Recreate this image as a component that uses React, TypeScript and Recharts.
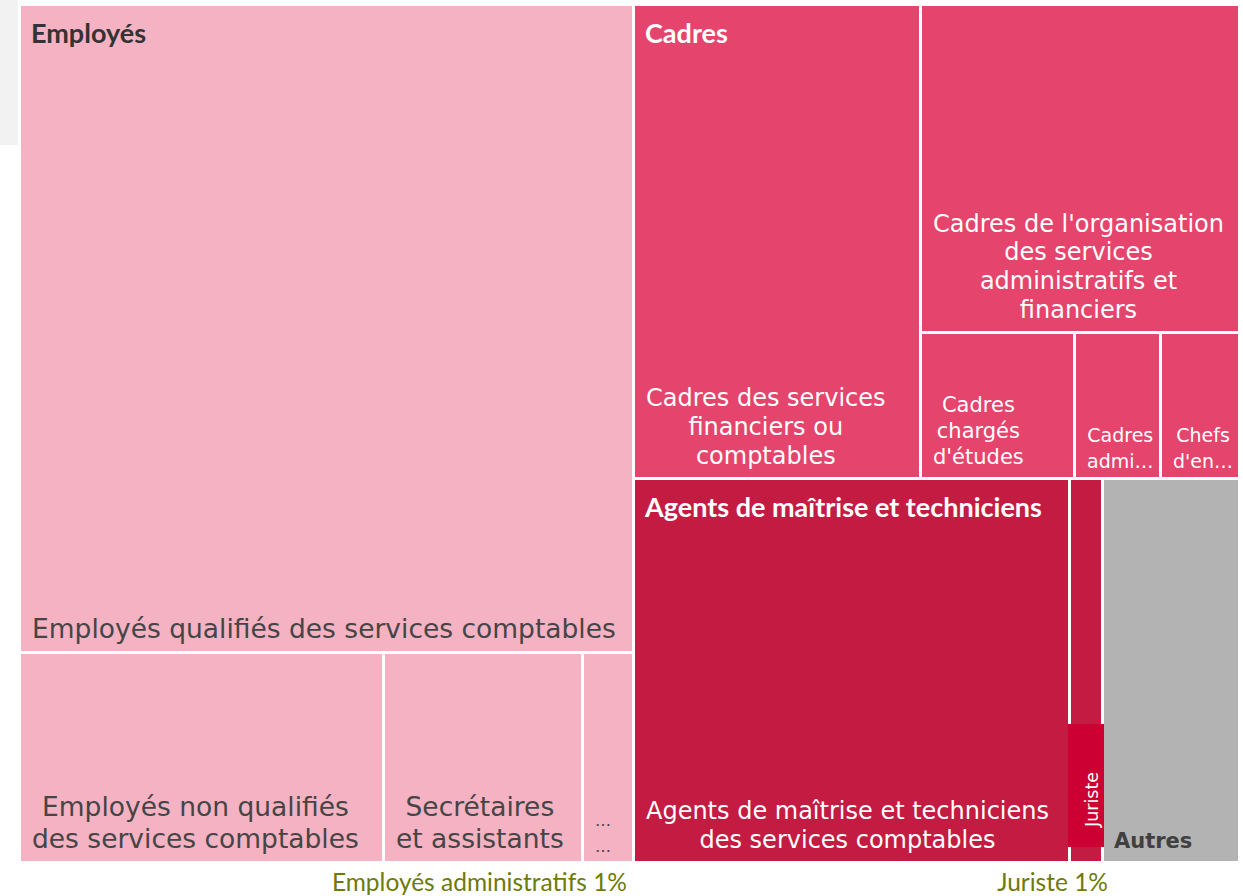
import React from 'react'
import { Treemap } from 'recharts'

// groups (level 1)
const groupNames = ['Employés', 'Cadres', 'Agents de maîtrise et techniciens', 'Autres']

// Employés
const employesNames = [
  'Employés qualifiés des services comptables',
  'Employés non qualifiés des services comptables',
  'Secrétaires et assistants',
  'Employés administratifs',
]
const employesValues = [38.0, 7.3, 4.0, 1.0]
const employesLabels = [
  ['Employés qualifiés des services comptables'],
  ['Employés non qualifiés', 'des services comptables'],
  ['Secrétaires', 'et assistants'],
  ['…', '…'],
]

// Cadres
const cadresNames = [
  'Cadres des services financiers ou comptables',
  "Cadres de l'organisation des services administratifs et financiers",
  "Cadres chargés d'études",
  'Cadres administratifs',
  "Chefs d'entreprise",
]
const cadresValues = [13.0, 10.0, 2.15, 1.2, 1.1]
const cadresLabels = [
  ['Cadres des services', 'financiers ou', 'comptables'],
  ["Cadres de l'organisation", 'des services', 'administratifs et', 'financiers'],
  ['Cadres', 'chargés', "d'études"],
  ['Cadres', 'admi…'],
  ['Chefs', "d'en…"],
]

// Agents de maîtrise et techniciens
const agentsNames = ['Agents de maîtrise et techniciens des services comptables', 'Juriste']
const agentsValues = [16.0, 1.2]
const agentsLabels = [['Agents de maîtrise et techniciens', 'des services comptables'], []]

const autresValue = 5.0

// annotations under the chart
const annotations = ['Employés administratifs 1%', 'Juriste 1%']

const groupFill: Record<string, string> = {
  'Employés': '#f4b2c3',
  'Cadres': '#e5446c',
  'Agents de maîtrise et techniciens': '#c41b43',
  'Autres': '#b3b3b3',
}
const groupText: Record<string, string> = {
  'Employés': '#454545',
  'Cadres': '#ffffff',
  'Agents de maîtrise et techniciens': '#ffffff',
  'Autres': '#404040',
}
const headerText: Record<string, string> = {
  'Employés': '#333333',
  'Cadres': '#ffffff',
  'Agents de maîtrise et techniciens': '#ffffff',
}

const build = (group: string, names: string[], values: number[], labels: string[][]) =>
  names.map((name, i) => ({ name, size: values[i], group, lines: labels[i] }))

const treeData = [
  { name: groupNames[0], children: build(groupNames[0], employesNames, employesValues, employesLabels) },
  { name: groupNames[1], children: build(groupNames[1], cadresNames, cadresValues, cadresLabels) },
  { name: groupNames[2], children: build(groupNames[2], agentsNames, agentsValues, agentsLabels) },
  { name: groupNames[3], size: autresValue, group: groupNames[3], lines: [] },
]

const LEAF_FONT = 'DejaVu Sans, Verdana, sans-serif'
const HEAD_FONT = 'Lato, Calibri, sans-serif'

let ctx: CanvasRenderingContext2D | null = null
const measure = (text: string, font: string) => {
  if (!ctx) ctx = document.createElement('canvas').getContext('2d')
  if (!ctx) return text.length * 10
  ctx.font = font
  return ctx.measureText(text).width
}

const leafFontSize = (group: string, w: number) => {
  if (w < 60) return 16
  if (group === 'Employés') return 26.5
  if (w > 200) return 24
  if (w > 120) return 21
  return 19
}

const renderCell = (props: any) => {
  const { x, y, width, height, depth, index, group, lines, name } = props
  if (depth === 0 || !group) return null
  const w = width - 3
  const h = height - 3
  const fill = groupFill[group]
  const bottom = y + h

  let label: React.ReactNode = null
  if (name === 'Juriste') {
    const tx = x + w - 3
    const ty = bottom - 34
    label = (
      <g>
        <rect x={x - 3} y={bottom - 137} width={w + 6} height={123} fill="#cc0033" />
        <text
          x={tx}
          y={ty}
          transform={`rotate(-90, ${tx}, ${ty})`}
          fill="#fff"
          fontFamily={LEAF_FONT}
          fontSize={17.5}
        >
          Juriste
        </text>
      </g>
    )
  } else if (group === 'Autres') {
    label = (
      <text x={x + 10} y={bottom - 13} fill={groupText[group]} fontFamily={LEAF_FONT} fontWeight="bold" fontSize={21}>
        {name}
      </text>
    )
  } else if (lines && lines.length) {
    const fs = leafFontSize(group, w)
    const lh = Math.max(fs * 1.2, 26)
    const font = `${fs}px ${LEAF_FONT}`
    const bw = Math.max(...lines.map((l: string) => measure(l, font)))
    const cx = x + 11 + bw / 2
    const last = bottom - (fs < 20 ? 9 : 13)
    label = lines.map((l: string, i: number) => (
      <text
        key={i}
        x={cx}
        y={last - (lines.length - 1 - i) * lh}
        textAnchor="middle"
        fill={groupText[group]}
        fontFamily={LEAF_FONT}
        fontSize={fs}
      >
        {l}
      </text>
    ))
  }

  const header =
    depth === 2 && index === 0 ? (
      <text
        x={x + 10}
        y={y + 37}
        fill={headerText[group]}
        fontFamily={HEAD_FONT}
        fontWeight="bold"
        fontSize={27}
      >
        {group}
      </text>
    ) : null

  return (
    <g>
      <rect x={x} y={y} width={w} height={h} fill={fill} />
      {label}
      {header}
    </g>
  )
}

export default function App() {
  return (
    <div style={{ position: 'absolute', left: 0, top: 0, width: 1243, height: 896, background: '#fff' }}>
      <div style={{ position: 'absolute', left: 0, top: 0, width: 18, height: 145, background: '#f2f2f2' }} />
      <div style={{ position: 'absolute', left: 21, top: 6 }}>
        <Treemap
          width={1220}
          height={858}
          data={treeData}
          dataKey="size"
          nameKey="name"
          aspectRatio={1}
          isAnimationActive={false}
          content={renderCell as any}
        />
      </div>
      <svg style={{ position: 'absolute', left: 0, top: 862 }} width={1243} height={34}>
        <text x={627} y={29} textAnchor="end" fill="#6e7a0a" fontFamily={HEAD_FONT} fontSize={24.5}>
          {annotations[0]}
        </text>
        <text x={1108} y={29} textAnchor="end" fill="#6e7a0a" fontFamily={HEAD_FONT} fontSize={24.5}>
          {annotations[1]}
        </text>
      </svg>
    </div>
  )
}
